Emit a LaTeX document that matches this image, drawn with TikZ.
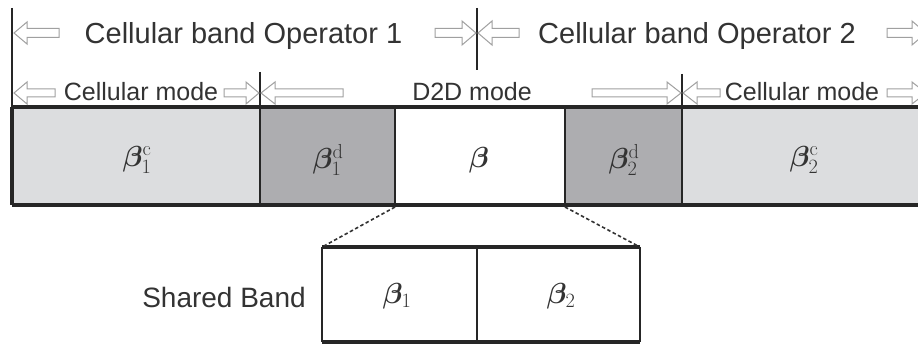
\documentclass[tikz,border=0pt]{standalone}
\usepackage{fix-cm}
\usepackage{amsmath,bm}
\usepackage[no-math]{fontspec}
\setmainfont{Liberation Sans}
\definecolor{lightband}{HTML}{DCDDDF}
\definecolor{darkband}{HTML}{ADADB0}
\definecolor{txt}{HTML}{333333}
\definecolor{arrowgray}{HTML}{A0A0A0}
\newcommand{\harr}[6]{%
  \draw[harrowstyle] ({#1},{#3-#5}) -- ({#2-(#6)},{#3-#5}) -- ({#2-(#6)},{#3-#4}) -- ({#2},{#3}) -- ({#2-(#6)},{#3+#4}) -- ({#2-(#6)},{#3+#5}) -- ({#1},{#3+#5}) -- cycle;}
\newcommand{\bandlabel}[1]{\fontsize{29}{32}\selectfont$#1$}
\begin{document}
\begin{tikzpicture}[x=1pt,y=-1pt,
  harrowstyle/.style={draw=arrowgray,fill=white,line width=1pt,line join=miter},
  bigtext/.style={text=txt,font=\fontsize{29}{32}\selectfont,anchor=base,inner sep=0pt},
  midtext/.style={text=txt,font=\fontsize{25}{28}\selectfont,anchor=base,inner sep=0pt},
  thickline/.style={line width=3.5pt,draw=black!85},
  divline/.style={line width=2pt,draw=black!85},
  sepline/.style={line width=1.6pt,draw=black!85},
  dashconn/.style={line width=1.6pt,draw=black!80,dash pattern=on 3.5pt off 2.5pt}]
\useasboundingbox (0,0) rectangle (918,344);
\clip (0,0) rectangle (918,344);
\fill[white] (0,0) rectangle (918,344);
% band boxes
\fill[lightband] (12,107) rectangle (260,205);
\fill[darkband] (260,107) rectangle (395,205);
\fill[white] (395,107) rectangle (565,205);
\fill[darkband] (565,107) rectangle (682,205);
\fill[lightband] (682,107) rectangle (930,205);
\draw[divline] (260,107) -- (260,205);
\draw[divline] (395,107) -- (395,205);
\draw[divline] (565,107) -- (565,205);
\draw[divline] (682,107) -- (682,205);
\draw[thickline] (12,107) -- (930,107);
\draw[thickline] (12,205) -- (930,205);
\draw[thickline] (12,107) -- (12,205);
% band labels
\node[text=txt] (b1c) at (137,160) {\bandlabel{\bm{\beta}_1^{\mathrm{c}}}};
\node[text=txt] (b1d) at (328,160) {\bandlabel{\bm{\beta}_1^{\mathrm{d}}}};
\node[text=txt] (b)   at (479,160) {\bandlabel{\bm{\beta}}};
\node[text=txt] (b2d) at (624,160) {\bandlabel{\bm{\beta}_2^{\mathrm{d}}}};
\node[text=txt] (b2c) at (804,160) {\bandlabel{\bm{\beta}_2^{\mathrm{c}}}};
% vertical markers
\draw[sepline] (12,8) -- (12,107);
\draw[sepline] (477,8) -- (477,70);
\draw[sepline] (260,72) -- (260,107);
\draw[sepline] (682,74) -- (682,107);
% top row arrows and texts
\harr{59}{14}{33}{11}{4.5}{-13}
\harr{435}{476}{33}{12}{4.5}{14}
\harr{519}{478}{33}{12}{4.5}{-14}
\harr{887}{926}{33}{12}{4.5}{14}
\node[bigtext] (op1) at (243.5,44) {Cellular band Operator 1};
\node[bigtext] (op2) at (697,44) {Cellular band Operator 2};
% second row
\harr{55}{14}{93}{11}{4}{-13}
\harr{224}{259}{93}{11}{4}{13}
\harr{343}{261}{93}{11}{4}{-14}
\harr{592}{681}{93}{11}{4}{14}
\harr{720}{683}{93}{11}{4}{-14}
\harr{887}{926}{93}{11}{4}{14}
\node[midtext] (cm1) at (141,101) {Cellular mode};
\node[midtext] (d2d) at (472,101) {D2D mode};
\node[midtext] (cm2) at (802,101) {Cellular mode};
% shared band
\coordinate (sl) at (395,207);
\coordinate (sr) at (565,207);
\fill[white] (322,247) rectangle (640,342);
\draw[line width=1.4pt,draw=black!85] (322,247) -- (322,342);
\draw[line width=1.4pt,draw=black!85] (640,247) -- (640,342);
\draw[line width=2.6pt,draw=black!85] (477,247) -- (477,342);
\draw[thickline] (322,247) -- (640,247);
\draw[thickline] (322,342) -- (640,342);
\coordinate (stl) at (324,246);
\coordinate (str) at (638,246);
\draw[dashconn] (sl) -- (stl);
\draw[dashconn] (sr) -- (str);
\node[text=txt] (s1) at (397,296) {\bandlabel{\bm{\beta}_1}};
\node[text=txt] (s2) at (561,296) {\bandlabel{\bm{\beta}_2}};
\node[text=txt,font=\fontsize{28}{31}\selectfont,anchor=base,inner sep=0pt] (shared) at (224,308) {Shared Band};
\end{tikzpicture}
\end{document}
